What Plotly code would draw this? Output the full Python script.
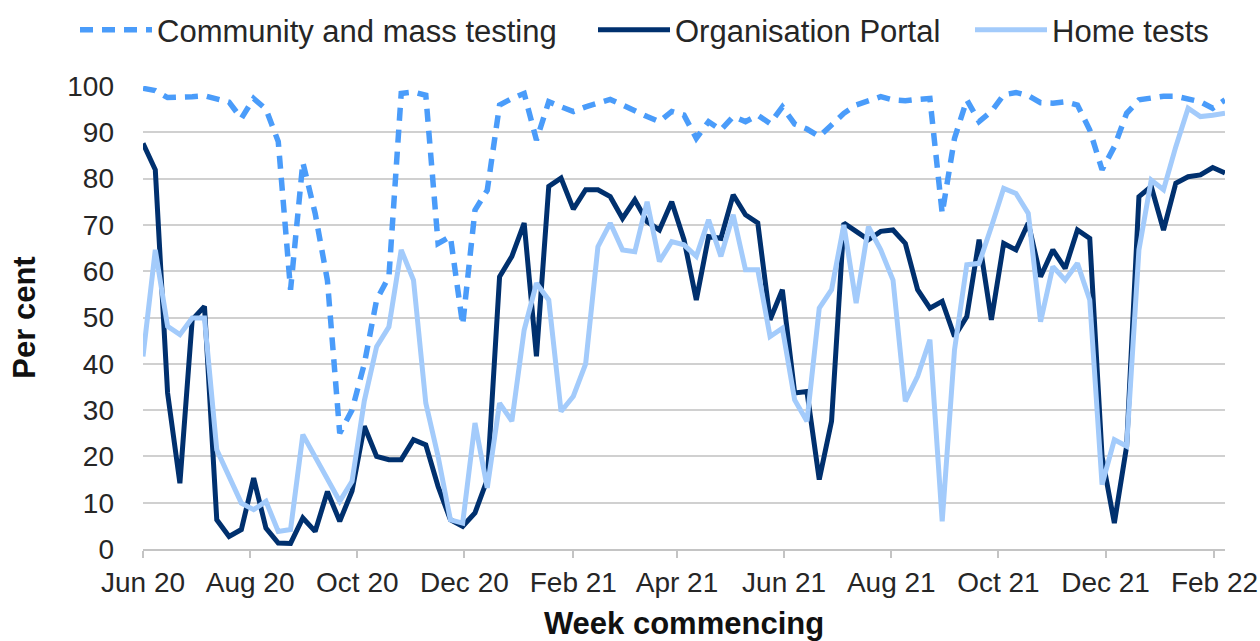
import pandas as pd
import plotly.graph_objects as go

# Weekly categories (week commencing)
weeks = pd.date_range("2020-06-04", periods=89, freq="7D")

community = [99.5, 99.0, 97.5, 97.5, 97.7, 97.9, 97.2, 96.5, 93.0, 97.3,
             95.0, 88.0, 56.0, 83.5, 72.5, 58.0, 25.0, 30.0, 40.0, 53.8,
             58.8, 98.4, 98.7, 98.0, 66.0, 67.5, 48.4, 73.2, 77.5, 95.9,
             97.3, 98.4, 88.3, 96.6, 95.5, 94.5, 95.5, 96.3, 97.1, 95.9,
             94.5, 93.4, 92.3, 94.5, 93.7, 88.7, 92.3, 90.5, 93.4, 92.3,
             93.7, 91.9, 95.5, 91.8, 90.7, 89.1, 91.6, 94.1, 95.9, 96.8,
             97.7, 97.0, 96.8, 97.1, 97.3, 72.5, 88.7, 97.0, 92.3, 94.5,
             98.1, 98.6, 97.9, 96.4, 96.3, 96.6, 95.9, 90.5, 81.9, 86.9,
             94.1, 97.0, 97.3, 97.8, 97.8, 97.3, 96.6, 95.2, 97.0]

organisation = [87.6, 81.9, 33.7, 14.2, 49.5, 52.4, 6.3, 2.7, 4.2, 15.3,
                4.5, 1.3, 1.2, 6.7, 3.8, 12.4, 6.0, 12.5, 26.5, 20.0,
                19.3, 19.3, 23.6, 22.5, 13.5, 6.3, 4.9, 7.8, 15.0, 58.8,
                63.2, 70.4, 41.6, 78.3, 80.1, 73.4, 77.6, 77.6, 76.1, 71.4,
                75.4, 70.7, 68.9, 75.0, 66.8, 53.8, 67.5, 67.1, 76.5, 72.2,
                70.4, 49.5, 56.0, 33.7, 34.0, 15.0, 27.6, 70.4, 68.6, 66.8,
                68.6, 68.9, 66.0, 56.0, 52.0, 53.5, 45.9, 50.2, 66.8, 49.5,
                66.0, 64.6, 70.4, 58.8, 64.6, 60.6, 68.9, 67.1, 20.0, 5.6,
                22.2, 76.1, 78.3, 68.9, 79.0, 80.4, 80.8, 82.4, 81.2]

home = [41.6, 64.6, 48.1, 46.3, 49.9, 49.9, 21.4, 15.7, 9.9, 8.5,
        10.3, 3.8, 4.2, 24.7, 20.0, 15.3, 10.3, 14.6, 32.0, 43.7,
        48.0, 64.6, 58.1, 31.5, 20.0, 6.3, 5.6, 27.2, 13.2, 31.5,
        27.6, 47.3, 57.4, 53.8, 29.7, 33.0, 40.0, 65.3, 70.4, 64.6,
        64.2, 75.0, 62.1, 66.4, 65.7, 63.2, 71.1, 63.2, 72.2, 60.3,
        60.3, 45.9, 47.7, 32.2, 27.6, 52.0, 56.0, 70.0, 53.1, 69.6,
        64.6, 58.1, 31.9, 37.3, 45.2, 6.0, 43.0, 61.4, 61.7, 69.6,
        77.9, 76.8, 72.5, 49.1, 61.0, 58.1, 61.7, 53.8, 13.9, 23.6,
        22.2, 64.6, 79.7, 77.6, 86.9, 95.2, 93.4, 93.7, 94.1]

tick_dates = ["2020-06-04", "2020-08-04", "2020-10-04", "2020-12-04",
              "2021-02-04", "2021-04-04", "2021-06-04", "2021-08-04",
              "2021-10-04", "2021-12-04", "2022-02-04"]
tick_labels = ["Jun 20", "Aug 20", "Oct 20", "Dec 20", "Feb 21", "Apr 21",
               "Jun 21", "Aug 21", "Oct 21", "Dec 21", "Feb 22"]

FONT = "Liberation Sans, Arial, sans-serif"
W, H = 1260, 641

fig = go.Figure()
fig.add_trace(go.Scatter(x=weeks, y=community, mode="lines",
                         name="Community and mass testing", legend="legend",
                         line=dict(color="#4A9CFA", width=5.5, dash="13px,9px")))
fig.add_trace(go.Scatter(x=weeks, y=organisation, mode="lines",
                         name="Organisation Portal", legend="legend2",
                         line=dict(color="#00306E", width=5)))
fig.add_trace(go.Scatter(x=weeks, y=home, mode="lines",
                         name="Home tests", legend="legend3",
                         line=dict(color="#A3CBFB", width=5)))

def leg(xpx):
    return dict(orientation="h", xref="container", yref="container",
                x=xpx / W, xanchor="left", y=1 - 30 / H, yanchor="middle",
                font=dict(size=31, color="#262626"), itemwidth=72,
                bgcolor="rgba(0,0,0,0)", borderwidth=0)

fig.update_layout(
    width=W, height=H,
    margin=dict(l=143, r=35, t=86, b=92, autoexpand=False),
    paper_bgcolor="white", plot_bgcolor="white",
    font=dict(family=FONT, size=28, color="#262626"),
    showlegend=True,
    legend=leg(75), legend2=leg(593), legend3=leg(970),
    xaxis=dict(
        type="date", automargin=False,
        range=[weeks[0], weeks[-1]],
        tickmode="array", tickvals=tick_dates, ticktext=tick_labels,
        ticks="outside", ticklen=7, tickwidth=2, tickcolor="#c4c4c4",
        showline=True, linecolor="#c4c4c4", linewidth=2,
        showgrid=False, zeroline=False,
        tickfont=dict(size=28, color="#262626"),
        ticklabelstandoff=0,
        title=dict(text="<b>Week commencing</b>", font=dict(size=31, color="#111111"),
                   standoff=25),
    ),
    yaxis=dict(
        range=[0, 100], tickmode="linear", tick0=0, dtick=10, automargin=False,
        showgrid=True, gridcolor="#d0d0d0", gridwidth=2,
        showline=False, zeroline=False, ticks="",
        tickfont=dict(size=28, color="#262626"),
        ticklabelstandoff=28,
        title=dict(text="<b>Per cent</b>", font=dict(size=31, color="#111111"),
                   standoff=22),
    ),
)

fig.write_html(
    "out.html",
    config={"displayModeBar": False},
    post_script="document.body.style.margin='0';document.body.style.overflow='hidden';",
)
